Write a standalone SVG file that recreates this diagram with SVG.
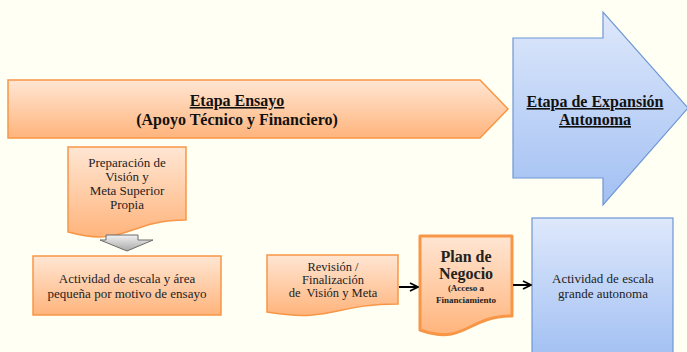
<svg xmlns="http://www.w3.org/2000/svg" width="687" height="352" viewBox="0 0 687 352">
  <defs>
    <linearGradient id="orangeFill" x1="0" y1="0" x2="0" y2="1">
      <stop offset="0" stop-color="#FFE6D3"/>
      <stop offset="1" stop-color="#FFB47C"/>
    </linearGradient>
    <linearGradient id="blueFill" x1="0" y1="0" x2="0" y2="1">
      <stop offset="0" stop-color="#DEE8FB"/>
      <stop offset="1" stop-color="#A2C0F3"/>
    </linearGradient>
    <linearGradient id="greyFill" x1="0" y1="0" x2="0" y2="1">
      <stop offset="0" stop-color="#F2F2F2"/>
      <stop offset="1" stop-color="#A8A8A8"/>
    </linearGradient>
    <marker id="openHead" viewBox="0 0 10 10" refX="9" refY="5" markerWidth="5" markerHeight="5" orient="auto" markerUnits="strokeWidth">
      <path d="M1,1 L9,5 L1,9" fill="none" stroke="#000" stroke-width="1.8" stroke-linejoin="miter"/>
    </marker>
  </defs>
  <style>
    .orange { fill: url(#orangeFill); stroke: #F79646; stroke-width: 1.5; }
    .blue { fill: url(#blueFill); stroke: #6E97D4; stroke-width: 1.2; }
    .txt { fill: #222; text-anchor: middle; }
    .reg { font-size: 13px; }
    .head { font-size: 16px; font-weight: bold; fill: #111; }
    .link { stroke: #000; stroke-width: 2; fill: none; marker-end: url(#openHead); }
  </style>

  <rect width="687" height="352" fill="#FFFFF4"/>

  <g font-family="Liberation Serif, DejaVu Serif, serif">
  <!-- trial stage banner -->
  <g id="etapa-ensayo">
    <path class="orange" d="M8,80 H480 L508,109 L480,138 H8 Z"/>
    <text class="txt head" x="237" y="106" text-decoration="underline">Etapa Ensayo</text>
    <text class="txt head" x="237" y="125">(Apoyo Técnico y Financiero)</text>
  </g>

  <!-- expansion stage arrow -->
  <g id="etapa-expansion">
    <path class="blue" d="M513,38 H603 V12 L688,108 L603,205 V178 H513 Z"/>
    <text class="txt head" x="595" y="107" text-decoration="underline">Etapa de Expansión</text>
    <text class="txt head" x="595" y="125" text-decoration="underline">Autonoma</text>
  </g>

  <!-- vision preparation document -->
  <g id="preparacion">
    <path class="orange" d="M68,147 H186 V220 C127,220 127,248 68,232 Z"/>
    <text class="txt reg" x="127" y="167">Preparación de</text>
    <text class="txt reg" x="127" y="181">Visión y</text>
    <text class="txt reg" x="127" y="195">Meta Superior</text>
    <text class="txt reg" x="127" y="209">Propia</text>
  </g>

  <!-- small-scale activity -->
  <g id="actividad-pequena">
    <rect class="orange" x="33" y="256" width="188" height="59"/>
    <text class="txt reg" x="127" y="283">Actividad de escala y área</text>
    <text class="txt reg" x="127" y="298">pequeña por motivo de ensayo</text>
  </g>

  <!-- revision document -->
  <g id="revision">
    <path class="orange" d="M267,255 H398 V304 C333,304 333,323 267,312 Z"/>
    <text class="txt" font-size="12.5" x="333" y="271">Revisión /</text>
    <text class="txt" font-size="12.5" x="333" y="284">Finalización</text>
    <text class="txt" font-size="12.5" x="333" y="297" xml:space="preserve">de  Visión y Meta</text>
  </g>

  <!-- business plan document -->
  <g id="plan-negocio">
    <path d="M420,236 H512 V316 C466,316 466,346 420,330 Z" fill="url(#orangeFill)" stroke="#F79646" stroke-width="3" stroke-linejoin="round"/>
    <text class="txt" x="466" y="262" font-size="16" font-weight="bold" fill="#111">Plan de</text>
    <text class="txt" x="466" y="279" font-size="16" font-weight="bold" fill="#111">Negocio</text>
    <text class="txt" x="466" y="291" font-size="9" font-weight="bold" fill="#111">(Acceso a</text>
    <text class="txt" x="466" y="303" font-size="9" font-weight="bold" fill="#111">Financiamiento</text>
  </g>

  <!-- large-scale autonomous activity -->
  <g id="actividad-grande">
    <rect class="blue" x="532" y="218" width="141" height="140"/>
    <text class="txt reg" x="603" y="283">Actividad de escala</text>
    <text class="txt reg" x="603" y="298">grande autonoma</text>
  </g>
  </g>

  <!-- connectors -->
  <g id="connectors">
    <path d="M106,235 H138 V240 H153 L127,251 L100,240 H106 Z" fill="url(#greyFill)" stroke="#6B6B6B" stroke-width="1"/>
    <line class="link" x1="399" y1="287" x2="418" y2="287"/>
    <line class="link" x1="513" y1="285" x2="531" y2="285"/>
  </g>
</svg>
